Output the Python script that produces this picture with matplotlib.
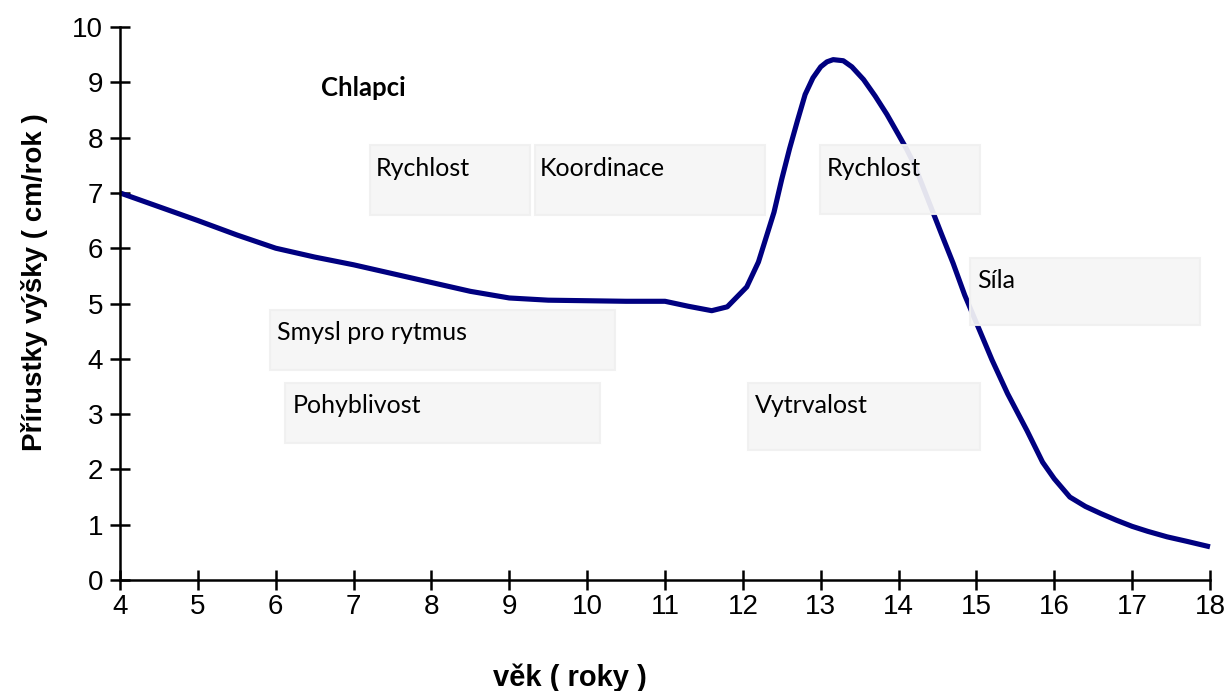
import matplotlib
matplotlib.use("Agg")
import matplotlib.pyplot as plt
from matplotlib.patches import Rectangle

# ---- data ----
ages = [4, 5, 5.5, 6, 6.5, 7, 8, 8.5, 9, 9.5, 10, 10.5, 11, 11.3, 11.6, 11.8,
        12.05, 12.2, 12.3, 12.4, 12.5, 12.6, 12.7, 12.8, 12.9, 13.0, 13.08,
        13.16, 13.29, 13.4, 13.55, 13.7, 13.85, 14.0, 14.1, 14.2, 14.3, 14.45,
        14.55, 14.7, 14.85, 15.0, 15.2, 15.4, 15.65, 15.85, 16.0, 16.2, 16.4,
        16.6, 16.8, 17.0, 17.2, 17.45, 17.7, 18.0]
growth = [7.0, 6.5, 6.24, 6.0, 5.84, 5.7, 5.38, 5.22, 5.1, 5.06, 5.05, 5.04,
          5.04, 4.95, 4.87, 4.94, 5.30, 5.75, 6.2, 6.65, 7.25, 7.8, 8.3, 8.78,
          9.08, 9.28, 9.37, 9.41, 9.39, 9.28, 9.05, 8.75, 8.42, 8.05, 7.8,
          7.52, 7.16, 6.62, 6.26, 5.73, 5.15, 4.65, 3.98, 3.37, 2.7, 2.13, 1.83,
          1.5, 1.33, 1.2, 1.08, 0.97, 0.88, 0.78, 0.7, 0.6]

x_ticks = list(range(4, 19))
y_ticks = list(range(0, 11))

abilities = ["Rychlost", "Koordinace", "Rychlost", "Síla",
             "Smysl pro rytmus", "Pohyblivost", "Vytrvalost"]
# box extents (x0, x1, y0, y1) in data units
boxes = [(7.21, 9.27, 6.6, 7.87), (9.33, 12.28, 6.6, 7.87),
         (12.99, 15.05, 6.62, 7.87), (14.92, 17.87, 4.61, 5.82),
         (5.93, 10.36, 3.8, 4.88), (6.12, 10.16, 2.48, 3.56),
         (12.07, 15.05, 2.35, 3.56)]
label_pos = [(7.29, 7.45), (9.39, 7.45), (13.08, 7.45), (15.01, 5.42),
             (6.02, 4.47), (6.22, 3.15), (12.16, 3.15)]

title_text = "Chlapci"
xlabel = "věk ( roky )"
ylabel = "Přírustky výšky ( cm/rok )"

# ---- figure ----
fig = plt.figure(figsize=(12.31, 6.91), dpi=100)
ax = fig.add_axes([120 / 1231, 111 / 691, 1090 / 1231, 553 / 691])

ax.plot(ages, growth, color="#000080", lw=3.7, solid_joinstyle="round",
        solid_capstyle="butt", zorder=2, clip_on=False)

for (x0, x1, y0, y1) in boxes:
    ax.add_patch(Rectangle((x0, y0), x1 - x0, y1 - y0, facecolor="#f6f6f6",
                           edgecolor="#f0f0f0", lw=1.5, alpha=0.93, zorder=3))
for txt, (tx, ty) in zip(abilities, label_pos):
    ax.text(tx, ty, txt, fontsize=18, family="Lato", color="black",
            ha="left", va="center", zorder=4)

ax.text(7.13, 8.9, title_text, fontsize=18.5, fontweight="bold",
        family="Lato", ha="center", va="center")

ax.set_xlim(4, 18)
ax.set_ylim(0, 10)
ax.set_xticks(x_ticks)
ax.set_yticks(y_ticks)
for s in ["top", "right"]:
    ax.spines[s].set_visible(False)
for s in ["left", "bottom"]:
    ax.spines[s].set_linewidth(1.8)
    ax.spines[s].set_color("black")
ax.tick_params(direction="inout", length=14, width=1.8, labelsize=20)
ax.tick_params(axis="y", pad=5)
ax.tick_params(axis="x", pad=3)
for lab in ax.get_xticklabels() + ax.get_yticklabels():
    lab.set_family("Liberation Sans")

ax.set_xlabel(xlabel, fontsize=21, fontweight="bold", family="Liberation Sans")
ax.xaxis.set_label_coords(450 / 1090, -84 / 553)
ax.set_ylabel(ylabel, fontsize=20, fontweight="bold", family="Liberation Sans")
ax.yaxis.set_label_coords(-72 / 1090, 0.539)

fig.savefig("out.png", dpi=100)
